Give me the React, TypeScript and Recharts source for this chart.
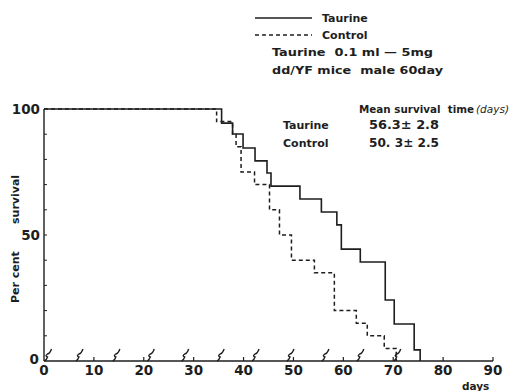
import React from "react";
import { ComposedChart, Line, Scatter, XAxis, YAxis, Customized } from "recharts";

// Kaplan-Meier style survival steps (day, per cent surviving)
const taurineDays = [0, 35.6, 37.8, 39.9, 42.3, 44.7, 45.5, 51.3, 55.6, 58.7, 59.6, 63.4, 68.4, 70.2, 74.2, 75.4];
const taurinePct = [100, 94.4, 90.1, 84.5, 79.4, 74.6, 69.4, 64.3, 59.1, 54.0, 44.4, 39.3, 24.2, 14.7, 4.4, 0];

const controlDays = [0, 34.6, 37.8, 38.5, 39.5, 42.2, 45.2, 47.2, 49.6, 54.2, 58.2, 62.6, 64.8, 68.2, 70.6];
const controlPct = [100, 95, 90, 85, 75, 70, 60, 50, 40, 35, 20, 15, 10, 5, 0];

// injection marks on the time axis
const injectionDays = [0.9, 7.2, 14.6, 21.5, 28.4, 35.5, 42.5, 49.5, 56.5, 63.5, 70.9];

const xTicks = [0, 10, 20, 30, 40, 50, 60, 70, 80, 90];
const yTicks = [0, 10, 20, 30, 40, 50, 60, 70, 80, 90, 100];
const yLabelled = [50, 100];

const taurineData = taurineDays.map((d, i) => ({ d, v: taurinePct[i] }));
const controlData = controlDays.map((d, i) => ({ d, v: controlPct[i] }));
const injectionData = injectionDays.map((d) => ({ d, v: 0 }));

const INK = "#1e1e1e";
const FONT = "'DejaVu Sans', sans-serif";

const XTick = (props: any) => {
  const { x, y, payload } = props;
  const v = payload.value;
  return (
    <g>
      {v !== 0 && <line x1={x} y1={y} x2={x} y2={y - 4} stroke={INK} strokeWidth={1.2} />}
      <text x={x} y={y + 14} textAnchor="middle" fontFamily={FONT} fontWeight="bold" fontSize={13.5} fill={INK}>
        {v}
      </text>
    </g>
  );
};

const YTick = (props: any) => {
  const { x, y, payload } = props;
  const v = payload.value;
  return (
    <g>
      {v !== 0 && v !== 100 && <line x1={x} y1={y} x2={x + 3} y2={y} stroke={INK} strokeWidth={1} />}
      {yLabelled.includes(v) && (
        <text x={x - 4} y={y + 5} textAnchor="end" fontFamily={FONT} fontWeight="bold" fontSize={13.5} fill={INK}>
          {v}
        </text>
      )}
      {v === 0 && (
        <text x={x - 5} y={y + 3} textAnchor="end" fontFamily={FONT} fontWeight="bold" fontSize={13.5} fill={INK}>
          0
        </text>
      )}
    </g>
  );
};

const Mark = (props: any) => {
  const { cx, cy } = props;
  return (
    <path
      d={`M${cx - 4},${cy} q2,-1 3,-4 q-3,-1 0,-3 q2.5,-0.5 4,-5`}
      fill="none"
      stroke={INK}
      strokeWidth={1.4}
    />
  );
};

const Notes = () => {
  const t = { fontFamily: FONT, fontWeight: "bold" as const, fill: INK, style: { whiteSpace: "pre" as const } };
  return (
    <g>
      <line x1={255} y1={18} x2={312} y2={18} stroke={INK} strokeWidth={1.5} />
      <text x={322} y={22} fontSize={11} {...t}>Taurine</text>
      <line x1={255} y1={35} x2={312} y2={35} stroke={INK} strokeWidth={1.5} strokeDasharray="4 3" />
      <text x={322} y={39} fontSize={11} {...t}>Control</text>
      <text x={272} y={56} fontSize={11} textLength={161} lengthAdjust="spacingAndGlyphs" {...t}>Taurine  0.1 ml — 5mg</text>
      <text x={272} y={74} fontSize={11} textLength={171} lengthAdjust="spacingAndGlyphs" {...t}>dd/YF mice  male 60day</text>

      <text x={359} y={113} fontSize={10.5} textLength={115} lengthAdjust="spacingAndGlyphs" {...t}>Mean survival  time</text>
      <text x={476} y={113} fontSize={10.5} fontStyle="italic" fontFamily={FONT} fill={INK} fontWeight="normal">(days)</text>
      <text x={283} y={129} fontSize={11} {...t}>Taurine</text>
      <text x={369} y={129} fontSize={12} textLength={70} lengthAdjust="spacingAndGlyphs" {...t}>56.3± 2.8</text>
      <text x={283} y={147} fontSize={11} {...t}>Control</text>
      <text x={369} y={147} fontSize={12} textLength={70} lengthAdjust="spacingAndGlyphs" {...t}>50. 3± 2.5</text>

      <text x={462} y={390} fontSize={10.5} {...t}>days</text>

      <text transform="translate(19,303) rotate(-90)" x={0} y={0} fontSize={11} {...t}>Per cent</text>
      <text transform="translate(19,224) rotate(-90)" x={0} y={0} fontSize={11} {...t}>survival</text>
    </g>
  );
};

export default function App() {
  return (
    <div style={{ position: "absolute", left: 0, top: 0, width: 511, height: 391, background: "#fff" }}>
      <ComposedChart width={511} height={391} margin={{ top: 109, right: 18, left: 14, bottom: 10 }}>
        <XAxis
          dataKey="d"
          type="number"
          domain={[0, 90]}
          ticks={xTicks}
          interval={0}
          height={20}
          axisLine={{ stroke: INK, strokeWidth: 1.4 }}
          tickLine={false}
          tickSize={0}
          tickMargin={0}
          tick={<XTick />}
          allowDuplicatedCategory={false}
        />
        <YAxis
          type="number"
          domain={[0, 100]}
          ticks={yTicks}
          interval={0}
          width={30}
          axisLine={{ stroke: INK, strokeWidth: 1.4 }}
          tickLine={false}
          tickSize={0}
          tickMargin={0}
          tick={<YTick />}
        />
        <Line data={controlData} dataKey="v" type="stepAfter" stroke={INK} strokeWidth={1.5} strokeDasharray="4 3" dot={false} isAnimationActive={false} />
        <Line data={taurineData} dataKey="v" type="stepAfter" stroke={INK} strokeWidth={1.6} dot={false} isAnimationActive={false} />
        <Scatter data={injectionData} dataKey="v" shape={<Mark />} isAnimationActive={false} />
        <Customized component={Notes} />
      </ComposedChart>
    </div>
  );
}
